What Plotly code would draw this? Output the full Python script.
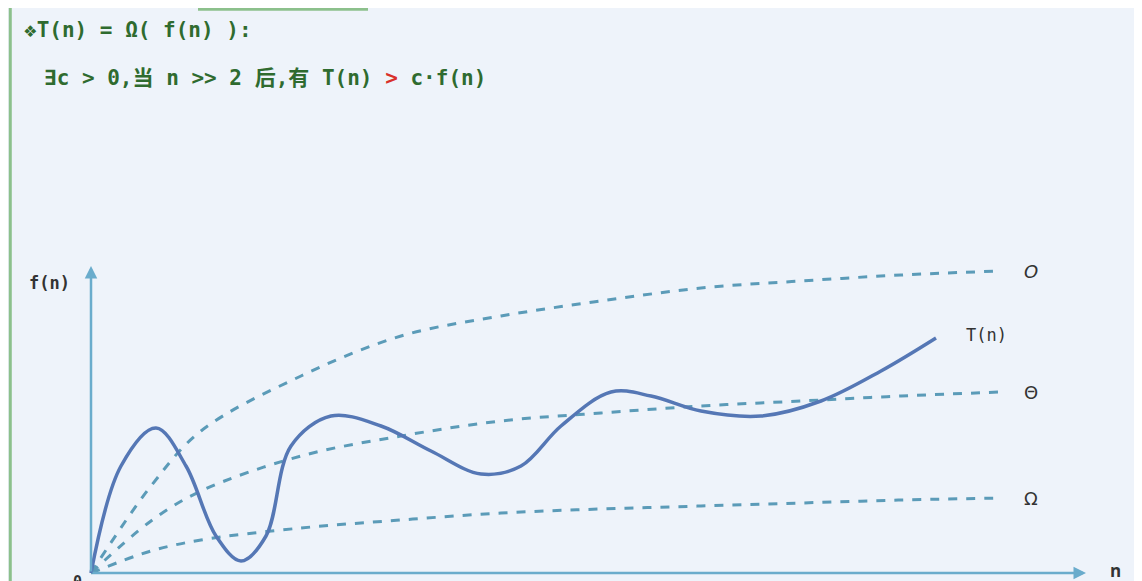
import plotly.graph_objects as go

# chart units: origin of the drawn axes at (0, 0)
n_bound = [0, 60, 110, 210, 310, 410, 510, 610, 710, 810, 910]
big_o = [0, 87, 142, 197, 237, 257, 272, 285, 292, 298, 302]
theta = [0, 52, 82, 117, 137, 152, 160, 167, 172, 177, 181]
omega = [0, 22, 33, 45, 53, 60, 64, 67, 70, 73, 75]

n_t = [0, 30, 65, 95, 125, 150, 175, 200, 240, 290, 340, 390, 430, 470, 520, 560, 610, 670, 730, 790, 845]
t_n = [0, 107, 145, 107, 37, 12, 37, 127, 157, 147, 122, 99, 107, 147, 181, 177, 162, 157, 172, 202, 235]

curve_col = "#5b9bb8"
t_col = "#5577b5"
txt_col = "#2f6b2f"

fig = go.Figure()
for ys, lab, lx in [(big_o, "<i>O</i>", 1030), (theta, "Θ", 1030), (omega, "Ω", 1030)]:
    fig.add_trace(go.Scatter(x=n_bound, y=ys, mode="lines", line_shape="spline",
                             line=dict(color=curve_col, width=3, dash="dash"), hoverinfo="skip"))
    fig.add_annotation(x=lx - 90, y=ys[-1], text=lab, showarrow=False,
                       font=dict(size=18, color="#333", family="DejaVu Sans"))
fig.add_trace(go.Scatter(x=n_t, y=t_n, mode="lines", line_shape="spline",
                         line=dict(color=t_col, width=3.5), hoverinfo="skip"))
fig.add_annotation(x=n_t[-1] + 50, y=t_n[-1] + 3, text="T(n)", showarrow=False,
                   font=dict(size=17, color="#333", family="DejaVu Sans Mono"))

# axes with arrows
axis_col = "#6aaccc"
fig.add_annotation(x=995, y=0, ax=0, ay=0, xref="x", yref="y", axref="x", ayref="y",
                   arrowhead=2, arrowsize=1, arrowwidth=2.5, arrowcolor=axis_col, text="")
fig.add_annotation(x=0, y=307, ax=0, ay=0, xref="x", yref="y", axref="x", ayref="y",
                   arrowhead=2, arrowsize=1, arrowwidth=2.5, arrowcolor=axis_col, text="")
fig.add_annotation(x=1024, y=3, text="<b>n</b>", showarrow=False, font=dict(size=17, color="#333"))
fig.add_annotation(x=-42, y=290, text="<b>f(n)</b>", showarrow=False,
                   font=dict(size=17, color="#333", family="DejaVu Sans Mono"))
fig.add_annotation(x=-14, y=-9, text="<b>0</b>", showarrow=False,
                   font=dict(size=15, color="#333", family="DejaVu Sans Mono"))

mono = "DejaVu Sans Mono, Noto Sans CJK SC"
fig.add_annotation(x=0.012, y=1 - 22 / 581, xref="paper", yref="paper", xanchor="left", yanchor="middle",
                   showarrow=False, text="<b>❖T(n) = Ω( f(n) ):</b>",
                   font=dict(size=21, color=txt_col, family=mono))
fig.add_annotation(x=0.03, y=1 - 70 / 581, xref="paper", yref="paper", xanchor="left", yanchor="middle",
                   showarrow=False,
                   text="<b>∃c > 0,当 n >> 2 后,有 T(n) <span style='color:#d9302a'>></span> c·f(n)</b>",
                   font=dict(size=21, color=txt_col, family=mono))

fig.update_layout(
    width=1142, height=581, margin=dict(l=0, r=0, t=0, b=0),
    paper_bgcolor="#eef3fa", plot_bgcolor="#eef3fa", showlegend=False,
    xaxis=dict(range=[-83, 1059], visible=False, fixedrange=True),
    yaxis=dict(range=[-16, 565], visible=False, fixedrange=True),
    shapes=[
        dict(type="line", xref="paper", yref="paper", x0=0.002, x1=0.002, y0=0, y1=1,
             line=dict(color="#8cc08c", width=3)),
        dict(type="line", xref="paper", yref="paper", x0=190 / 1142, x1=360 / 1142, y0=0.998, y1=0.998,
             line=dict(color="#8cc08c", width=3)),
        dict(type="rect", xref="paper", yref="paper", x0=735 / 1142, x1=1100 / 1142,
             y0=-0.05, y1=4 / 581, line=dict(color="#4a7a4a", width=2), fillcolor="#5e8f5e"),
    ],
)
fig.write_html("out.html")
